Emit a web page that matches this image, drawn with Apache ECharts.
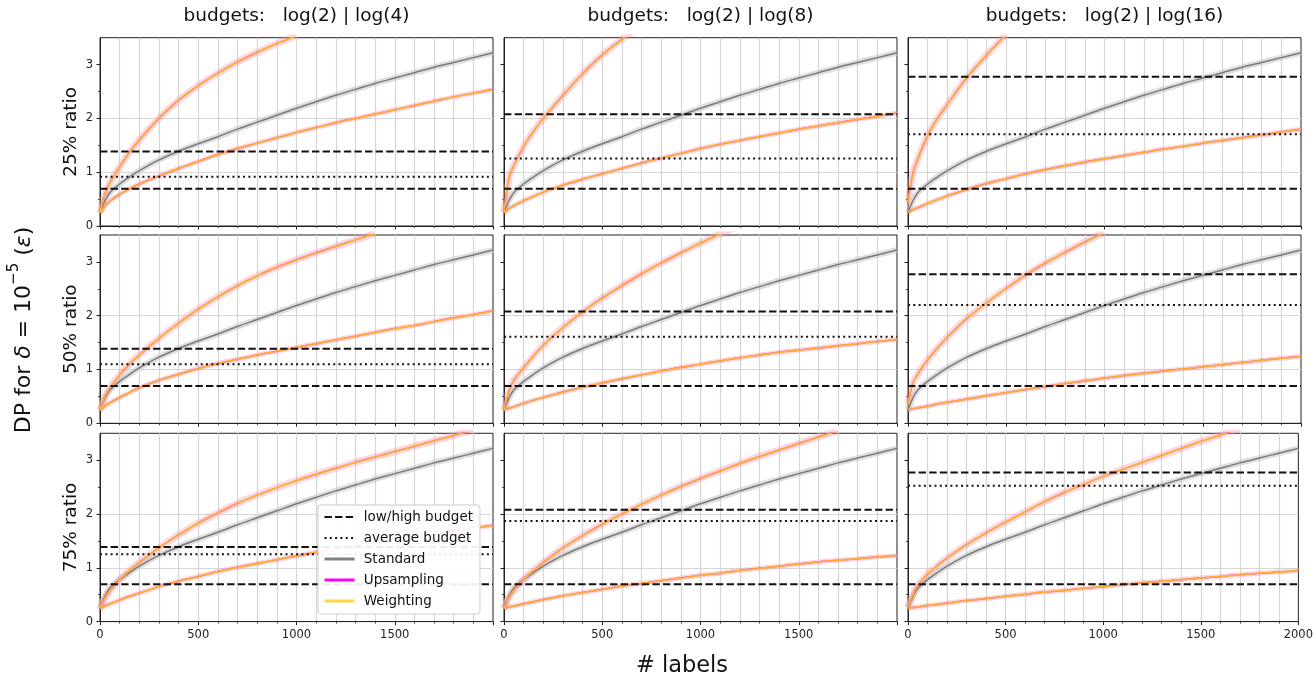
<!DOCTYPE html>
<html>
<head>
<meta charset="utf-8">
<script src="https://cdn.jsdelivr.net/npm/echarts@6/dist/echarts.min.js"></script>
<style>
  html, body { margin: 0; padding: 0; background: #ffffff; }
  #chart { width: 1316px; height: 679px; }
</style>
</head>
<body>
<div id="chart"></div>
<script>
// Number of labels at which epsilon was evaluated
const labelCounts = [0, 25, 50, 100, 150, 200, 300, 400, 500, 600, 700, 800, 900, 1000,
                     1100, 1200, 1300, 1400, 1500, 1600, 1700, 1800, 1900, 2000];

// Standard training: same in every panel
const standardEps = [0.25, 0.47, 0.62, 0.78, 0.91, 1.03, 1.23, 1.39, 1.53, 1.66, 1.80, 1.93, 2.06, 2.19,
                     2.31, 2.43, 2.54, 2.65, 2.75, 2.85, 2.95, 3.04, 3.13, 3.22];

// Upsampling / weighting, two groups per panel (name: ratio _ high budget argument)
const upperEps25_4  = [0.25, 0.60, 0.80, 1.10, 1.37, 1.60, 2.00, 2.34, 2.61, 2.84, 3.05, 3.23, 3.39, 3.54];
const lowerEps25_4  = [0.25, 0.37, 0.46, 0.59, 0.69, 0.78, 0.93, 1.07, 1.20, 1.33, 1.44, 1.54, 1.64, 1.74,
                       1.83, 1.92, 2.00, 2.08, 2.16, 2.24, 2.32, 2.40, 2.47, 2.54];
const upperEps50_4  = [0.25, 0.50, 0.66, 0.90, 1.10, 1.27, 1.58, 1.86, 2.12, 2.35, 2.56, 2.74, 2.90, 3.04,
                       3.17, 3.29, 3.41, 3.53];
const lowerEps50_4  = [0.25, 0.32, 0.38, 0.48, 0.57, 0.66, 0.80, 0.91, 1.02, 1.11, 1.19, 1.27, 1.34, 1.41,
                       1.48, 1.55, 1.62, 1.69, 1.76, 1.82, 1.89, 1.96, 2.02, 2.09];
const upperEps75_4  = [0.25, 0.44, 0.57, 0.78, 0.95, 1.10, 1.37, 1.61, 1.83, 2.02, 2.20, 2.35, 2.49, 2.62,
                       2.74, 2.85, 2.96, 3.06, 3.16, 3.26, 3.36, 3.46, 3.56];
const lowerEps75_4  = [0.25, 0.29, 0.33, 0.40, 0.47, 0.53, 0.65, 0.75, 0.84, 0.93, 1.01, 1.08, 1.15, 1.22,
                       1.29, 1.35, 1.41, 1.47, 1.53, 1.59, 1.64, 1.69, 1.74, 1.79];

const upperEps25_8  = [0.25, 0.88, 1.12, 1.48, 1.76, 2.00, 2.43, 2.83, 3.18, 3.47, 3.73];
const lowerEps25_8  = [0.25, 0.32, 0.38, 0.47, 0.55, 0.63, 0.76, 0.87, 0.97, 1.07, 1.17, 1.26, 1.35, 1.44,
                       1.52, 1.59, 1.66, 1.73, 1.80, 1.86, 1.92, 1.98, 2.04, 2.10];
const upperEps50_8  = [0.25, 0.60, 0.80, 1.03, 1.25, 1.45, 1.78, 2.07, 2.33, 2.56, 2.78, 2.98, 3.17, 3.35,
                       3.52, 3.68];
const lowerEps50_8  = [0.25, 0.28, 0.31, 0.37, 0.43, 0.48, 0.58, 0.67, 0.75, 0.83, 0.90, 0.97, 1.04, 1.10,
                       1.16, 1.22, 1.27, 1.32, 1.36, 1.40, 1.44, 1.48, 1.52, 1.56];
const upperEps75_8  = [0.25, 0.45, 0.58, 0.78, 0.95, 1.10, 1.37, 1.60, 1.81, 2.00, 2.18, 2.35, 2.51, 2.66,
                       2.80, 2.94, 3.07, 3.19, 3.31, 3.43, 3.55];
const lowerEps75_8  = [0.25, 0.27, 0.29, 0.33, 0.37, 0.41, 0.48, 0.54, 0.60, 0.66, 0.71, 0.76, 0.81, 0.86,
                       0.90, 0.95, 0.99, 1.03, 1.07, 1.11, 1.14, 1.17, 1.20, 1.23];

const upperEps25_16 = [0.42, 0.98, 1.25, 1.68, 2.00, 2.26, 2.76, 3.18, 3.56];
const lowerEps25_16 = [0.25, 0.30, 0.34, 0.42, 0.49, 0.56, 0.68, 0.79, 0.88, 0.97, 1.05, 1.12, 1.19, 1.25,
                       1.31, 1.37, 1.43, 1.48, 1.54, 1.59, 1.64, 1.69, 1.75, 1.80];
const upperEps50_16 = [0.35, 0.75, 0.92, 1.18, 1.40, 1.60, 1.95, 2.24, 2.51, 2.76, 2.98, 3.18, 3.37, 3.55];
const lowerEps50_16 = [0.25, 0.27, 0.29, 0.32, 0.36, 0.39, 0.45, 0.51, 0.57, 0.63, 0.68, 0.74, 0.79, 0.84,
                       0.89, 0.93, 0.97, 1.01, 1.05, 1.09, 1.13, 1.17, 1.21, 1.24];
const upperEps75_16 = [0.27, 0.50, 0.67, 0.88, 1.04, 1.18, 1.43, 1.65, 1.85, 2.04, 2.23, 2.40, 2.55, 2.70,
                       2.83, 2.96, 3.09, 3.22, 3.35, 3.47, 3.59];
const lowerEps75_16 = [0.25, 0.26, 0.27, 0.30, 0.32, 0.34, 0.39, 0.43, 0.47, 0.51, 0.55, 0.58, 0.62, 0.65,
                       0.69, 0.72, 0.75, 0.78, 0.81, 0.84, 0.87, 0.90, 0.92, 0.95];

// Budgets
const lowBudget = Math.log(2);
const highBudgets = [Math.log(4), Math.log(8), Math.log(16)];
// log of the group-weighted mean of e^eps, per ratio row and budget column
const averageBudgets = [
  [Math.log(2.5), Math.log(3.5), Math.log(5.5)],
  [Math.log(3.0), Math.log(5.0), Math.log(9.0)],
  [Math.log(3.5), Math.log(6.5), Math.log(12.5)]
];

// Labels
const columnTitles = ['budgets:   log(2) | log(4)', 'budgets:   log(2) | log(8)', 'budgets:   log(2) | log(16)'];
const rowTitles = ['25% ratio', '50% ratio', '75% ratio'];
const yTickValues = [0, 1, 2, 3];
const yMinorTickValues = [0.5, 1.5, 2.5];
const legendNames = ['low/high budget', 'average budget', 'Standard', 'Upsampling', 'Weighting'];

const upperCurves = [
  [upperEps25_4, upperEps25_8, upperEps25_16],
  [upperEps50_4, upperEps50_8, upperEps50_16],
  [upperEps75_4, upperEps75_8, upperEps75_16]
];
const lowerCurves = [
  [lowerEps25_4, lowerEps25_8, lowerEps25_16],
  [lowerEps50_4, lowerEps50_8, lowerEps50_16],
  [lowerEps75_4, lowerEps75_8, lowerEps75_16]
];

// ---- layout ----
const FONT = '"DejaVu Sans", "Liberation Sans", sans-serif';
const colLeft = [100, 504, 908];
const rowTop = [37.7, 235, 433.3];
const panelW = 393;
const panelH = 188.3;

const DASH = [7.4, 3.2];
const DOT = [2, 3.3];
const STD_COLOR = '#7a7a7a';
const STD_BAND = 'rgba(200,200,200,0.6)';
const UPS_COLOR = '#ff00ff';
const WGT_COLOR = 'rgba(255,215,0,0.78)';
const PINK_BAND = 'rgba(245,150,170,0.38)';

const grids = [], xAxes = [], yAxes = [], series = [];

function curveSeries(name, k, ys, lineStyle, z) {
  return {
    type: 'line', name, xAxisIndex: k, yAxisIndex: 2 * k,
    data: ys.map((y, i) => [labelCounts[i], y]),
    symbol: 'none', smooth: 0.35, clip: true,
    lineStyle, z, silent: true, animation: false,
    emphasis: { disabled: true }
  };
}
function hlineSeries(name, k, v, type) {
  return {
    type: 'line', name, xAxisIndex: k, yAxisIndex: 2 * k,
    data: [[0, v], [2000, v]], symbol: 'none', silent: true, animation: false,
    lineStyle: { color: '#111', width: 2, type }, z: 5,
    emphasis: { disabled: true }
  };
}

for (let r = 0; r < 3; r++) {
  for (let c = 0; c < 3; c++) {
    const k = r * 3 + c;
    grids.push({
      left: colLeft[c], top: rowTop[r], width: panelW, height: panelH,
      show: true, borderColor: '#222', borderWidth: 1, backgroundColor: 'transparent',
      containLabel: false
    });
    xAxes.push({
      type: 'value', gridIndex: k, min: 0, max: 2000, interval: 500,
      axisLine: { show: true, onZero: false, lineStyle: { color: '#222', width: 1 } },
      axisTick: { show: true, length: 3.5, lineStyle: { color: '#222', width: 1 } },
      minorTick: { show: true, splitNumber: 5, length: 2, lineStyle: { color: '#222', width: 0.8 } },
      splitLine: { show: true, showMinLine: false, showMaxLine: false, lineStyle: { color: '#d6d6d6', width: 1.2 } },
      minorSplitLine: { show: true, lineStyle: { color: '#d6d6d6', width: 1.2 } },
      axisLabel: {
        show: r === 2, margin: 7, color: '#222', fontSize: 11.5, fontFamily: FONT,
        formatter: v => (c < 2 && v === 2000) ? '' : String(v)
      }
    });
    yAxes.push({
      type: 'value', gridIndex: k, position: 'left', min: 0, max: 3.5, interval: 0.5,
      axisLine: { show: true, onZero: false, lineStyle: { color: '#222', width: 1 } },
      axisTick: { show: true, length: 3.5, customValues: yTickValues, lineStyle: { color: '#222', width: 1 } },
      splitLine: { show: true, showMinLine: false, showMaxLine: false, lineStyle: { color: '#d6d6d6', width: 1.2 } },
      axisLabel: {
        show: c === 0, customValues: yTickValues, margin: 7, color: '#222',
        fontSize: 11.5, fontFamily: FONT
      }
    });
    yAxes.push({
      type: 'value', gridIndex: k, position: 'left', min: 0, max: 3.5, interval: 0.5,
      axisLine: { show: false },
      axisTick: { show: true, length: 2, customValues: yMinorTickValues, lineStyle: { color: '#222', width: 0.8 } },
      splitLine: { show: false },
      axisLabel: { show: false }
    });

    const up = upperCurves[r][c], lo = lowerCurves[r][c];
    // shaded spread
    series.push(curveSeries('std band ' + k, k, standardEps, { color: STD_BAND, width: 6 }, 1));
    series.push(curveSeries('ups band hi ' + k, k, up, { color: PINK_BAND, width: 7 }, 1));
    series.push(curveSeries('ups band lo ' + k, k, lo, { color: PINK_BAND, width: 5 }, 1));
    // mean curves
    series.push(curveSeries('Standard ' + k, k, standardEps, { color: STD_COLOR, width: 1.5 }, 2));
    series.push(curveSeries('Upsampling hi ' + k, k, up, { color: UPS_COLOR, width: 1.5 }, 3));
    series.push(curveSeries('Upsampling lo ' + k, k, lo, { color: UPS_COLOR, width: 1.5 }, 3));
    series.push(curveSeries('Weighting hi ' + k, k, up, { color: WGT_COLOR, width: 1.8 }, 4));
    series.push(curveSeries('Weighting lo ' + k, k, lo, { color: WGT_COLOR, width: 1.8 }, 4));
    // budget reference lines
    series.push(hlineSeries('low budget ' + k, k, lowBudget, DASH));
    series.push(hlineSeries('high budget ' + k, k, highBudgets[c], DASH));
    series.push(hlineSeries('average budget ' + k, k, averageBudgets[r][c], DOT));
  }
}

// Legend entries: empty series carrying the legend line styles (marker hidden)
const legendStyles = [
  { color: '#111', width: 2, type: DASH },
  { color: '#111', width: 2, type: DOT },
  { color: '#808080', width: 3, type: 'solid' },
  { color: UPS_COLOR, width: 3, type: 'solid' },
  { color: '#ffd740', width: 3, type: 'solid' }
];
const hiddenMarker = { color: 'rgba(0,0,0,0)', borderColor: 'rgba(0,0,0,0)', borderWidth: 0 };
legendNames.forEach((n, i) => {
  series.push({
    type: 'line', name: n, xAxisIndex: 6, yAxisIndex: 12, data: [],
    symbol: 'none', lineStyle: legendStyles[i], itemStyle: hiddenMarker,
    animation: false
  });
});

const graphics = [];
columnTitles.forEach((t, c) => {
  graphics.push({
    type: 'text', x: colLeft[c] + panelW / 2, y: 16, silent: true,
    style: { text: t, font: '18.5px ' + FONT, fill: '#111', align: 'center', verticalAlign: 'middle' }
  });
});
rowTitles.forEach((t, r) => {
  graphics.push({
    type: 'text', x: 71, y: rowTop[r] + panelH / 2, rotation: Math.PI / 2, silent: true,
    style: { text: t, font: '18.5px ' + FONT, fill: '#111', align: 'center', verticalAlign: 'middle' }
  });
});
graphics.push({
  type: 'text', x: 21, y: 330, rotation: Math.PI / 2, silent: true,
  style: {
    text: '{n|DP for }{i|δ}{n| = 10}{s|−5}{n| (}{i|ε}{n|)}',
    align: 'center', verticalAlign: 'middle',
    rich: {
      n: { fontSize: 22, fontFamily: FONT, fill: '#111', lineHeight: 28, verticalAlign: 'bottom' },
      i: { fontSize: 22, fontFamily: FONT, fontStyle: 'italic', fill: '#111', lineHeight: 28, verticalAlign: 'bottom' },
      s: { fontSize: 15, fontFamily: FONT, fill: '#111', lineHeight: 28, verticalAlign: 'top' }
    }
  }
});
graphics.push({
  type: 'text', x: 682, y: 666, silent: true,
  style: { text: '# labels', font: '22.5px ' + FONT, fill: '#111', align: 'center', verticalAlign: 'middle' }
});

const chart = echarts.init(document.getElementById('chart'), null, { renderer: 'canvas' });
chart.setOption({
  animation: false,
  backgroundColor: '#ffffff',
  grid: grids,
  xAxis: xAxes,
  yAxis: yAxes,
  legend: {
    data: legendNames.map((n, i) => ({
      name: n,
      lineStyle: { color: legendStyles[i].color, width: legendStyles[i].width, type: legendStyles[i].type },
      itemStyle: hiddenMarker
    })),
    orient: 'vertical', left: 318, top: 505,
    itemWidth: 30, itemHeight: 14, itemGap: 5,
    padding: [4, 7, 5, 5],
    backgroundColor: 'rgba(255,255,255,0.92)',
    borderColor: '#cccccc', borderWidth: 1, borderRadius: 3,
    selectedMode: false, z: 20,
    formatter: n => ' ' + n,
    itemStyle: hiddenMarker,
    textStyle: { fontSize: 13.5, fontFamily: FONT, color: '#111', lineHeight: 16 }
  },
  graphic: graphics,
  series: series
});
</script>
</body>
</html>
